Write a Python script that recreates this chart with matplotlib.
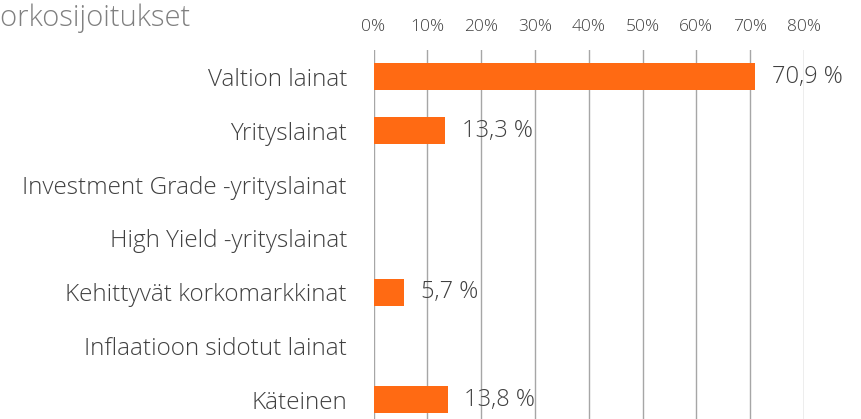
import numpy as np
import matplotlib.pyplot as plt

# Korkosijoitusten jakauma
categories = ['Valtion lainat', 'Yrityslainat', 'Investment Grade -yrityslainat',
              'High Yield -yrityslainat', 'Kehittyvät korkomarkkinat',
              'Inflaatioon sidotut lainat', 'Käteinen']
shares = [70.9, 13.3, 0.0, 0.0, 5.7, 0.0, 13.8]
value_labels = ['70,9 %', '13,3 %', None, None, '5,7 %', None, '13,8 %']
ticks = [0, 10, 20, 30, 40, 50, 60, 70, 80]

plt.rcParams['font.family'] = ['Open Sans', 'DejaVu Sans']
text_col = '#404040'
orange = '#ff6a13'

fig = plt.figure(figsize=(8.61, 4.19), dpi=100)
W, H = 861, 419
# axis box in pixels: x 373.5..804, y 50..426.6 (bottom runs past the canvas)
ax = fig.add_axes([373.5 / W, 1 - 426.6 / H, (804 - 373.5) / W, (426.6 - 50) / H])

y = np.arange(len(categories))
ax.barh(y, shares, height=0.5, color=orange, zorder=3)
ax.set_ylim(len(categories) - 0.5, -0.5)
ax.set_xlim(0, 80)

for yi, v, lab in zip(y, shares, value_labels):
    if lab:
        ax.annotate(lab, (v, yi), xytext=(12, 0), textcoords='offset points',
                    va='center', ha='left', fontsize=17, color=text_col,
                    fontweight='light', zorder=4)

ax.set_xticks(ticks)
ax.set_xticklabels([f'{t}%' for t in ticks], fontsize=12.5, color=text_col, fontweight='light')
ax.xaxis.tick_top()
ax.tick_params(axis='x', length=0, pad=11)
ax.set_yticks(y)
ax.set_yticklabels(categories, fontsize=17.5, color=text_col, fontweight='light')
ax.tick_params(axis='y', length=0, pad=19)

ax.grid(axis='x', color='#a6a6a6', linewidth=1, zorder=0)
for s in ax.spines.values():
    s.set_visible(False)

fig.text(-17 / W, 1 - 18 / H, 'Korkosijoitukset', fontsize=21, color='#808080',
         va='center', ha='left', fontweight='light')

fig.savefig('out.png', dpi=100)
